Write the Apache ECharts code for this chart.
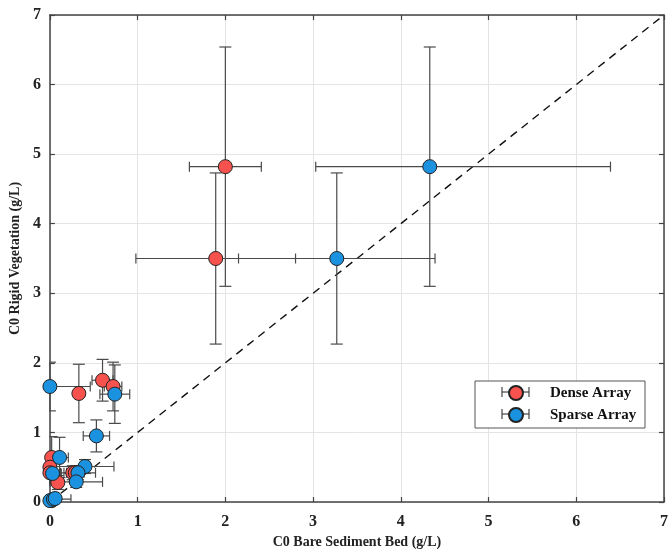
<!DOCTYPE html>
<html>
<head>
<meta charset="utf-8">
<script src="https://cdn.jsdelivr.net/npm/echarts@6/dist/echarts.min.js"></script>
<style>html,body{margin:0;padding:0;background:#fff}#c{width:671px;height:555px}</style>
</head>
<body>
<div id="c"></div>
<script>
// Dense Array
const denseX     = [2.00, 1.89, 0.60, 0.72, 0.33, 0.02, 0.00, 0.00, 0.09, 0.26, 0.29, 0.02];
const denseY     = [4.82, 3.50, 1.75, 1.66, 1.56, 0.64, 0.50, 0.42, 0.28, 0.42, 0.42, 0.02];
const denseXLo   = [0.41, 0.91, 0.12, 0.10, 0.04, 0.05, 0.02, 0.02, 0.05, 0.10, 0.10, 0.02];
const denseXHi   = [0.41, 0.91, 0.12, 0.10, 0.04, 0.05, 0.02, 0.02, 0.05, 0.10, 0.10, 0.02];
const denseYErr  = [1.72, 1.23, 0.30, 0.35, 0.42, 0.30, 0.20, 0.15, 0.10, 0.10, 0.10, 0.02];
// Sparse Array
const sparseX    = [4.33, 3.27, 0.74, 0.00, 0.53, 0.11, 0.03, 0.40, 0.32, 0.30, 0.00, 0.04, 0.06];
const sparseY    = [4.82, 3.50, 1.55, 1.66, 0.95, 0.64, 0.41, 0.51, 0.42, 0.29, 0.02, 0.04, 0.05];
const sparseXLo  = [1.30, 1.12, 0.17, 0.46, 0.15, 0.10, 0.10, 0.33, 0.20, 0.30, 0.05, 0.20, 0.05];
const sparseXHi  = [2.06, 1.12, 0.17, 0.46, 0.15, 0.10, 0.10, 0.33, 0.20, 0.30, 0.05, 0.20, 0.05];
const sparseYErr = [1.72, 1.23, 0.42, 0.35, 0.23, 0.29, 0.15, 0.10, 0.10, 0.08, 0.02, 0.03, 0.03];
// 1:1 reference line
const refLine = [[0, 0], [7, 7]];
const axisTicks = [0, 1, 2, 3, 4, 5, 6, 7];

const RED = '#F8524F', BLUE = '#1B92DF';
const FONT = '"Liberation Serif", "Times New Roman", serif';

function rows(X, Y, XL, XH, YE) {
  return X.map((x, i) => [x, Y[i], XL[i], XH[i], YE[i]]);
}
const denseRows = rows(denseX, denseY, denseXLo, denseXHi, denseYErr);
const sparseRows = rows(sparseX, sparseY, sparseXLo, sparseXHi, sparseYErr);

function errRender(params, api) {
  const x = api.value(0), y = api.value(1);
  const xl = api.value(2), xh = api.value(3), ye = api.value(4);
  const a = api.coord([x - xl, y]), b = api.coord([x + xh, y]);
  const t = api.coord([x, y + ye]), d = api.coord([x, y - ye]);
  const st = { stroke: '#4a4a4a', lineWidth: 1.2 };
  const ch = [];
  const cx = 5, cy = 6;
  ch.push({ type: 'line', shape: { x1: a[0], y1: a[1], x2: b[0], y2: b[1] }, style: st });
  ch.push({ type: 'line', shape: { x1: a[0], y1: a[1] - cx, x2: a[0], y2: a[1] + cx }, style: st });
  ch.push({ type: 'line', shape: { x1: b[0], y1: b[1] - cx, x2: b[0], y2: b[1] + cx }, style: st });
  ch.push({ type: 'line', shape: { x1: t[0], y1: t[1], x2: d[0], y2: d[1] }, style: st });
  ch.push({ type: 'line', shape: { x1: t[0] - cy, y1: t[1], x2: t[0] + cy, y2: t[1] }, style: st });
  ch.push({ type: 'line', shape: { x1: d[0] - cy, y1: d[1], x2: d[0] + cy, y2: d[1] }, style: st });
  return { type: 'group', children: ch };
}

const chart = echarts.init(document.getElementById('c'), null, { renderer: 'canvas' });
const axisCommon = {
  min: 0, max: 7, interval: 1,
  axisLine: { show: true, onZero: false, lineStyle: { color: '#444', width: 1.5 } },
  axisTick: { show: true, inside: true, length: 5, lineStyle: { color: '#444', width: 1.2 } },
  splitLine: { show: true, lineStyle: { color: '#e4e4e4', width: 1 } },
};
const labelStyle = { fontFamily: FONT, fontWeight: 'bold', fontSize: 16, color: '#222' };
const nameStyle = { fontFamily: FONT, fontWeight: 'bold', fontSize: 14, color: '#222' };

chart.setOption({
  animation: false,
  backgroundColor: '#fff',
  grid: { left: 49, right: 5, top: 15, bottom: 53, containLabel: false },
  xAxis: [
    Object.assign({}, axisCommon, {
      type: 'value', position: 'bottom',
      axisLabel: Object.assign({ margin: 12, formatter: v => axisTicks.includes(v) ? String(v) : '' }, labelStyle),
      name: 'C0 Bare Sediment Bed (g/L)', nameLocation: 'middle', nameGap: 33, nameTextStyle: nameStyle
    }),
    Object.assign({}, axisCommon, {
      type: 'value', position: 'top', axisLabel: { show: false }, splitLine: { show: false }
    })
  ],
  yAxis: [
    Object.assign({}, axisCommon, {
      type: 'value', position: 'left',
      axisLabel: Object.assign({ margin: 9, formatter: v => axisTicks.includes(v) ? String(v) : '' }, labelStyle),
      name: 'C0 Rigid Vegetation (g/L)', nameLocation: 'middle', nameGap: 25, nameRotate: 90, nameTextStyle: nameStyle
    }),
    Object.assign({}, axisCommon, {
      type: 'value', position: 'right', axisLabel: { show: false }, splitLine: { show: false }
    })
  ],
  legend: {
    data: ['Dense Array', 'Sparse Array'],
    orient: 'vertical', left: 503, top: 380, itemGap: 6,
    itemWidth: 14, itemHeight: 14, icon: 'circle', z: 30,
    textStyle: { fontFamily: FONT, fontWeight: 'bold', fontSize: 15, color: '#111', padding: [0, 0, 0, 22] }
  },
  graphic: [
    { type: 'rect', z: 20, shape: { x: 475, y: 381, width: 170, height: 47 },
      style: { fill: '#fff', stroke: '#555', lineWidth: 1 } },
    { type: 'line', z: 21, shape: { x1: 502, y1: 392, x2: 529, y2: 392 }, style: { stroke: '#444', lineWidth: 1.2 } },
    { type: 'line', z: 21, shape: { x1: 502, y1: 387, x2: 502, y2: 397 }, style: { stroke: '#444', lineWidth: 1.2 } },
    { type: 'line', z: 21, shape: { x1: 529, y1: 387, x2: 529, y2: 397 }, style: { stroke: '#444', lineWidth: 1.2 } },
    { type: 'line', z: 21, shape: { x1: 502, y1: 414, x2: 529, y2: 414 }, style: { stroke: '#444', lineWidth: 1.2 } },
    { type: 'line', z: 21, shape: { x1: 502, y1: 409, x2: 502, y2: 419 }, style: { stroke: '#444', lineWidth: 1.2 } },
    { type: 'line', z: 21, shape: { x1: 529, y1: 409, x2: 529, y2: 419 }, style: { stroke: '#444', lineWidth: 1.2 } }
  ],
  series: [
    { name: 'ref', type: 'line', data: refLine, symbol: 'none', silent: true, z: 1,
      lineStyle: { color: '#111', width: 1.4, type: [8, 6] } },
    { name: 'Dense err', type: 'custom', data: denseRows, renderItem: errRender, clip: true, z: 2 },
    { name: 'Sparse err', type: 'custom', data: sparseRows, renderItem: errRender, clip: true, z: 2 },
    { name: 'Dense Array', type: 'scatter', data: denseRows.map(r => [r[0], r[1]]), symbolSize: 14, z: 3,
      itemStyle: { color: RED, borderColor: '#222', borderWidth: 1, opacity: 1 } },
    { name: 'Sparse Array', type: 'scatter', data: sparseRows.map(r => [r[0], r[1]]), symbolSize: 14, z: 4,
      itemStyle: { color: BLUE, borderColor: '#222', borderWidth: 1, opacity: 1 } }
  ]
});
</script>
</body>
</html>
